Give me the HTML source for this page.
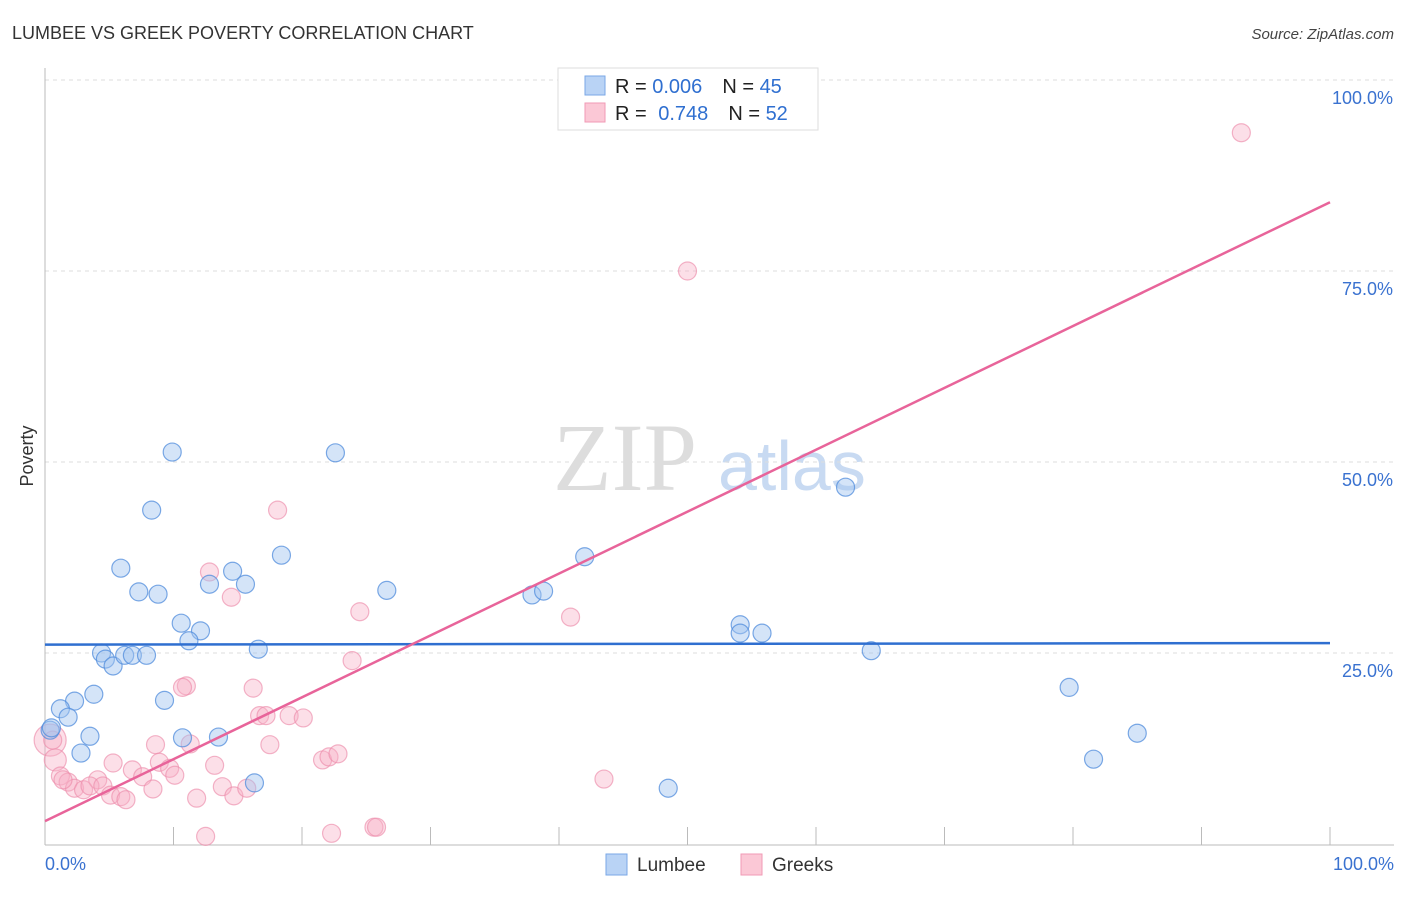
<!DOCTYPE html>
<html><head><meta charset="utf-8"><style>
body{margin:0;background:#fff;font-family:"Liberation Sans",sans-serif}
svg text{font-family:"Liberation Sans",sans-serif}
svg text.serif{font-family:"Liberation Serif",serif}
</style></head><body>
<svg id="chart" width="1406" height="892" viewBox="0 0 1406 892" xmlns="http://www.w3.org/2000/svg">
<text x="12" y="39" font-size="18" fill="#333">LUMBEE VS GREEK POVERTY CORRELATION CHART</text>
<text x="1394" y="39" font-size="15" fill="#444" text-anchor="end" font-style="italic">Source: ZipAtlas.com</text>
<g>
<text class="serif" x="553" y="490" font-size="96" fill="#ddd">ZIP</text>
<text x="718" y="490" font-size="70" fill="#c8daf2">atlas</text>
</g>
<g id="grid"></g>
<g id="axes"></g>
<g id="marks"></g>
<text transform="translate(33,456) rotate(-90)" font-size="18" fill="#333" text-anchor="middle">Poverty</text>
<g>
<rect x="558" y="68" width="260" height="62" fill="#fff" stroke="#ddd"/>
<rect x="585" y="76" width="20" height="19" fill="#b9d3f5" stroke="#7aa7e6"/>
<rect x="585" y="103" width="20" height="19" fill="#fbc8d6" stroke="#f09ab5"/>
<text x="615" y="93" font-size="20" fill="#222">R = <tspan fill="#2f6fd0">0.006</tspan><tspan dx="20">N = </tspan><tspan fill="#2f6fd0">45</tspan></text>
<text x="615" y="120" font-size="20" fill="#222">R = <tspan fill="#2f6fd0" dx="6">0.748</tspan><tspan dx="20">N = </tspan><tspan fill="#2f6fd0">52</tspan></text>
</g>
<g>
<rect x="606" y="854" width="21" height="21" fill="#b9d3f5" stroke="#7aa7e6"/>
<text x="637" y="871" font-size="19" fill="#333">Lumbee</text>
<rect x="741" y="854" width="21" height="21" fill="#fbc8d6" stroke="#f09ab5"/>
<text x="772" y="871" font-size="19" fill="#333">Greeks</text>
</g>
</svg>
<script>
const yTicks=[25,50,75,100];
const yTickLabels=["25.0%","50.0%","75.0%","100.0%"];
const xTickLabels=["0.0%","100.0%"];
const lumbeeX=[9.9,22.6,8.3,62.3,5.9,18.4,14.6,12.8,15.6,7.3,8.8,26.6,37.9,38.8,42.0,10.6,12.1,11.2,54.1,54.1,55.8,4.4,4.7,5.3,6.2,6.8,7.9,16.6,64.3,79.7,3.8,2.3,1.2,1.8,9.3,3.5,10.7,13.5,0.4,2.8,85.0,81.6,16.3,48.5,0.5];
const lumbeeY=[51.3,51.2,43.7,46.7,36.1,37.8,35.7,34.0,34.0,33.0,32.7,33.2,32.6,33.1,37.6,28.9,27.9,26.6,28.7,27.6,27.6,25.0,24.2,23.3,24.7,24.7,24.7,25.5,25.3,20.5,19.6,18.7,17.7,16.6,18.8,14.1,13.9,14.0,14.9,11.9,14.5,11.1,8.0,7.3,15.2];
const greekX=[93.1,50.0,18.1,12.8,14.5,24.5,40.9,23.9,11.0,10.7,16.2,16.7,17.2,19.0,20.1,11.3,17.5,8.6,0.4,0.8,1.2,5.3,6.8,8.9,9.7,13.2,21.6,22.1,22.8,43.5,1.8,2.3,3.0,4.1,3.5,4.5,5.1,5.9,6.3,7.6,10.1,8.4,13.8,14.7,15.7,11.8,12.5,22.3,25.6,25.8,1.4,0.6];
const greekY=[93.1,75.0,43.7,35.6,32.3,30.4,29.7,24.0,20.7,20.5,20.4,16.8,16.8,16.8,16.5,13.1,13.0,13.0,13.6,11.0,8.9,10.6,9.7,10.7,9.9,10.3,11.0,11.4,11.8,8.5,8.1,7.3,7.1,8.4,7.6,7.6,6.4,6.2,5.8,8.8,9.0,7.2,7.5,6.3,7.3,6.0,1.0,1.4,2.2,2.2,8.4,13.6];
const greekSize=[9,9,9,9,9,9,9,9,9,9,9,9,9,9,9,9,9,9,16,11,9,9,9,9,9,9,9,9,9,9,9,9,9,9,9,9,9,9,9,9,9,9,9,9,9,9,9,9,9,9,9,9];
const lumbeeTrend=[26.1,26.3];
const greekTrend=[3.0,84.0];
const NS="http://www.w3.org/2000/svg";
const X0=45,X1=1330,Y0=844,Y100=80;
const sx=v=>X0+(X1-X0)*v/100;
const sy=v=>Y0-(Y0-Y100)*v/100;
function mk(t,a,p){const e=document.createElementNS(NS,t);for(const k in a)e.setAttribute(k,a[k]);p.appendChild(e);return e;}
const grid=document.getElementById('grid'),axes=document.getElementById('axes'),marks=document.getElementById('marks');
yTicks.forEach((t,i)=>{
 const l=mk('line',{x1:X0,x2:1394,y1:sy(t),y2:sy(t),stroke:'#ddd','stroke-dasharray':'4,4'},grid);
 
 
 const tx=mk('text',{x:1393,y:sy(t)+24,'font-size':18,fill:'#3a72d0','text-anchor':'end'},axes);
 tx.textContent=yTickLabels[i];
 
 
});
const ya=mk('line',{x1:X0,x2:X0,y1:68,y2:845,stroke:'#bbb'},axes);


const xa=mk('line',{x1:X0,x2:1394,y1:845,y2:845,stroke:'#bbb'},axes);


for(let k=1;k<=10;k++){
 const t=mk('line',{x1:sx(k*10),x2:sx(k*10),y1:827,y2:845,stroke:'#bbb'},axes);
 
 
}
[[0,'start',45],[100,'end',1394]].forEach((d,i)=>{
 const tx=mk('text',{x:d[2],y:870,'font-size':18,fill:'#3a72d0','text-anchor':d[1]},axes);
 tx.textContent=xTickLabels[i];
 
 
});
greekX.forEach((v,i)=>{
 const c=mk('circle',{cx:sx(v),cy:sy(greekY[i]),r:greekSize[i],fill:'rgba(248,176,198,0.4)',stroke:'rgba(236,140,170,0.65)','stroke-width':1.2},marks);
 
 
});
lumbeeX.forEach((v,i)=>{
 const c=mk('circle',{cx:sx(v),cy:sy(lumbeeY[i]),r:9,fill:'rgba(160,196,240,0.45)',stroke:'rgba(80,140,220,0.75)','stroke-width':1.2},marks);
 
 
});
const lt=mk('line',{x1:sx(0),x2:sx(100),y1:sy(lumbeeTrend[0]),y2:sy(lumbeeTrend[1]),stroke:'#2f6fd0','stroke-width':2.5},marks);


const gt=mk('line',{x1:sx(0),x2:sx(100),y1:sy(greekTrend[0]),y2:sy(greekTrend[1]),stroke:'#e8649a','stroke-width':2.5},marks);


</script>
</body></html>
